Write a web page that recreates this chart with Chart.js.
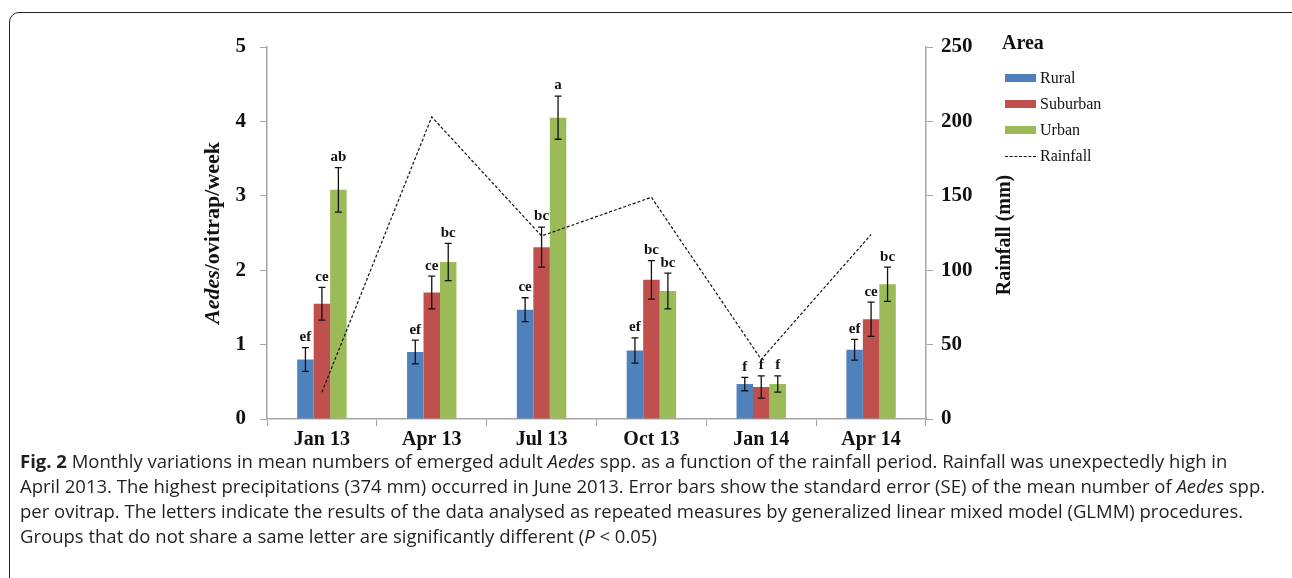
<!DOCTYPE html>
<html><head><meta charset="utf-8">
<script src="https://cdn.jsdelivr.net/npm/chart.js@4"></script>
<style>
html,body{margin:0;padding:0;background:#fff;width:1292px;height:578px;overflow:hidden;}
#frame{position:absolute;left:9px;top:12px;width:1300px;height:700px;border:1.5px solid #222;border-radius:10px;box-sizing:border-box;}
#wrap{position:absolute;left:0;top:0;width:1292px;height:455px;}
#legend{position:absolute;left:1002px;top:31px;font-family:"Liberation Serif",serif;color:#111;}
#legend .t{font-weight:bold;font-size:20px;margin-bottom:14px;}
#legend .r{position:relative;height:26px;font-size:16px;line-height:20px;}
#legend .sw{position:absolute;left:3px;top:6px;width:31px;height:8px;}
#legend .dl{position:absolute;left:3px;top:10px;width:31px;height:0;border-top:1px dashed #111;}
#legend .lb{position:absolute;left:38px;top:0;}
#cap{position:absolute;left:20px;top:448px;width:1260px;font-family:"Open Sans",sans-serif;font-size:18.5px;line-height:25px;color:#231f20;white-space:nowrap;}
</style></head><body>
<div id="frame"></div>
<div id="wrap"><canvas id="c"></canvas></div>
<div id="legend">
<div class="t">Area</div>
<div class="r"><div class="sw" style="background:#4F81BD"></div><span class="lb">Rural</span></div>
<div class="r"><div class="sw" style="background:#C0504D"></div><span class="lb">Suburban</span></div>
<div class="r"><div class="sw" style="background:#9BBB59"></div><span class="lb">Urban</span></div>
<div class="r"><div class="dl"></div><span class="lb">Rainfall</span></div>
</div>
<div id="cap"><b>Fig. 2</b> Monthly variations in mean numbers of emerged adult <i>Aedes</i> spp. as a function of the rainfall period. Rainfall was unexpectedly high in<br>April 2013. The highest precipitations (374 mm) occurred in June 2013. Error bars show the standard error (SE) of the mean number of <i>Aedes</i> spp.<br>per ovitrap. The letters indicate the results of the data analysed as repeated measures by generalized linear mixed model (GLMM) procedures.<br>Groups that do not share a same letter are significantly different (<i>P</i> &lt; 0.05)</div>
<script>
const categories = ["Jan 13","Apr 13","Jul 13","Oct 13","Jan 14","Apr 14"];
const rural = [0.80,0.90,1.47,0.92,0.47,0.93];
const ruralSE = [0.16,0.16,0.16,0.17,0.09,0.14];
const ruralLetters = ["ef","ef","ce","ef","f","ef"];
const suburban = [1.55,1.70,2.31,1.87,0.43,1.34];
const suburbanSE = [0.22,0.22,0.27,0.26,0.15,0.23];
const suburbanLetters = ["ce","ce","bc","bc","f","ce"];
const urban = [3.08,2.11,4.05,1.72,0.47,1.81];
const urbanSE = [0.30,0.25,0.29,0.24,0.11,0.23];
const urbanLetters = ["ab","bc","a","bc","f","bc"];
const rainfall = [18,203,123,149,40,124];
const leftTicks = [0,1,2,3,4,5];
const rightTicks = [0,50,100,150,200,250];

const serif = '"Liberation Serif", "Times New Roman", serif';
const axisColor = '#a6a6a6';

const errPlugin = {
  id:'err',
  afterDatasetsDraw(chart){
    const ctx = chart.ctx, y = chart.scales.y;
    chart.data.datasets.forEach((ds,i)=>{
      if(!ds.se) return;
      const meta = chart.getDatasetMeta(i);
      meta.data.forEach((bar,j)=>{
        const v = ds.data[j], se = ds.se[j];
        const yt = y.getPixelForValue(v+se), yb = y.getPixelForValue(v-se);
        const x = bar.x;
        ctx.save();
        ctx.strokeStyle='#111'; ctx.lineWidth=1.3;
        ctx.beginPath();
        ctx.moveTo(x,yt); ctx.lineTo(x,yb);
        ctx.moveTo(x-3.5,yt); ctx.lineTo(x+3.5,yt);
        ctx.moveTo(x-3.5,yb); ctx.lineTo(x+3.5,yb);
        ctx.stroke();
        ctx.fillStyle='#111';
        ctx.font='bold 15px '+serif;
        ctx.textAlign='center'; ctx.textBaseline='bottom';
        ctx.fillText(ds.letters[j], x, yt-3);
        ctx.restore();
      });
    });
    ctx.save();
    ctx.fillStyle='#111';
    ctx.textBaseline='middle';
    ctx.translate(213,233); ctx.rotate(-Math.PI/2);
    ctx.font='bold italic 22px '+serif;
    const a='Aedes', b='/ovitrap/week';
    const wa=ctx.measureText(a).width;
    ctx.font='bold 22px '+serif;
    const wb=ctx.measureText(b).width;
    const st=-(wa+wb)/2;
    ctx.textAlign='left';
    ctx.font='bold italic 22px '+serif; ctx.fillText(a,st,0);
    ctx.font='bold 22px '+serif; ctx.fillText(b,st+wa,0);
    ctx.restore();
    ctx.save();
    ctx.fillStyle='#111';
    ctx.translate(1005,235); ctx.rotate(-Math.PI/2);
    ctx.font='bold 20px '+serif; ctx.textAlign='center'; ctx.textBaseline='middle';
    ctx.fillText('Rainfall (mm)',0,0);
    ctx.restore();
  }
};

new Chart(document.getElementById('c'),{
  data:{
    labels:categories,
    datasets:[
      {type:'line',label:'Rainfall',data:rainfall,yAxisID:'y2',borderColor:'#111',borderWidth:1.2,borderDash:[3,2],pointRadius:0,fill:false,tension:0,order:0},
      {type:'bar',label:'Rural',data:rural,se:ruralSE,letters:ruralLetters,backgroundColor:'#4F81BD',borderWidth:0,yAxisID:'y',order:1},
      {type:'bar',label:'Suburban',data:suburban,se:suburbanSE,letters:suburbanLetters,backgroundColor:'#C0504D',borderWidth:0,yAxisID:'y',order:1},
      {type:'bar',label:'Urban',data:urban,se:urbanSE,letters:urbanLetters,backgroundColor:'#9BBB59',borderWidth:0,yAxisID:'y',order:1}
    ]
  },
  options:{
    responsive:true,maintainAspectRatio:false,animation:false,
    layout:{padding:{top:47,left:0,right:0,bottom:0}},
    datasets:{bar:{categoryPercentage:0.45,barPercentage:1.0}},
    plugins:{legend:{display:false},tooltip:{enabled:false}},
    scales:{
      x:{offset:true,
        grid:{display:true,drawOnChartArea:false,offset:true,color:axisColor,tickLength:7},
        border:{display:true,color:axisColor,width:1.5},
        ticks:{color:'#111',font:{family:serif,weight:'bold',size:20},padding:2},
        afterFit(s){s.height=36;}
      },
      y:{position:'left',min:0,max:5,
        afterBuildTicks(s){s.ticks=leftTicks.map(v=>({value:v}));},
        grid:{display:true,drawOnChartArea:false,color:axisColor,tickLength:7},
        border:{display:true,color:axisColor,width:1.5},
        ticks:{color:'#111',font:{family:serif,weight:'bold',size:21},padding:14},
        afterFit(s){s.width=267;}
      },
      y2:{position:'right',min:0,max:250,
        afterBuildTicks(s){s.ticks=rightTicks.map(v=>({value:v}));},
        grid:{display:true,drawOnChartArea:false,color:axisColor,tickLength:7},
        border:{display:true,color:axisColor,width:1.5},
        ticks:{color:'#111',font:{family:serif,weight:'bold',size:21},padding:8},
        afterFit(s){s.width=366;}
      }
    }
  },
  plugins:[errPlugin]
});
</script>
</body></html>
